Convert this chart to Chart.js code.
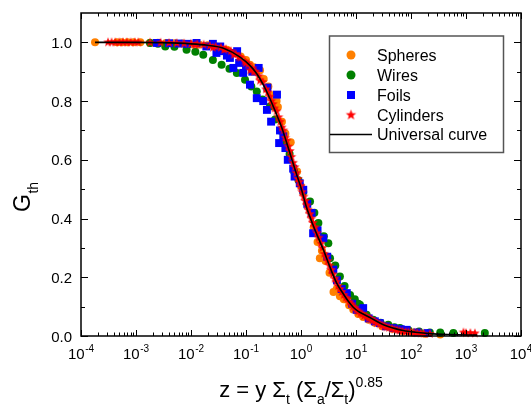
<!DOCTYPE html>
<html><head><meta charset="utf-8">
<script src="https://cdn.jsdelivr.net/npm/chart.js@4.4.1/dist/chart.umd.min.js"></script>
<style>html,body{margin:0;padding:0;background:#fff;}canvas{display:block;}</style>
</head><body>
<canvas id="c" width="531" height="405" style="width:531px;height:405px"></canvas>
<script>
// ---- tick definitions ----
const xTickExponents = [-4, -3, -2, -1, 0, 1, 2, 3, 4];
const xMinorMultipliers = [2, 3, 4, 5, 6, 7, 8, 9];
const yMajorTicks = [0.0, 0.2, 0.4, 0.6, 0.8, 1.0];
const yMinorTicks = [0.1, 0.3, 0.5, 0.7, 0.9];
const seriesNames = ['Spheres', 'Wires', 'Foils', 'Cylinders', 'Universal curve'];

// ---- data: [z, G_th] ----
const spheres = [
 [1.8e-4,1.0],[4.5e-4,1.0],[5.5e-4,1.0],[7e-4,1.0],[9e-4,1.0],[1.2e-3,1.0],[1.8e-3,0.999],[2.5e-3,0.999],
 [3.5e-3,0.998],[5e-3,0.997],[7e-3,0.996],[1e-2,0.994],[1.4e-2,0.993],[2e-2,0.99],[3e-2,0.985],[4.5e-2,0.975],
 [6e-2,0.965],[8e-2,0.952],[0.1,0.94],[0.118,0.924],[0.14,0.915],[0.18,0.905],[0.21,0.875],[0.255,0.85],
 [0.3,0.82],[0.36,0.80],[0.38,0.78],[0.45,0.73],[0.52,0.69],[0.65,0.66],[0.85,0.56],[1.0,0.51],
 [1.3,0.45],[1.7,0.37],[2.0,0.32],[2.2,0.265],[2.4,0.29],[2.8,0.255],[3.3,0.215],[3.9,0.15],
 [4.45,0.16],[5.1,0.135],[6,0.125],[7.5,0.105],[8.9,0.09],[11,0.075],[13.5,0.065],[17,0.055],[22,0.045],
 [30,0.033],[45,0.025],[70,0.017],[110,0.012],[180,0.008],[340,0.005]
];
const wires = [
 [1.8e-3,0.998],[2.5e-3,0.995],[3.4e-3,0.986],[5e-3,0.985],[8.3e-3,0.975],[1.2e-2,0.968],[1.67e-2,0.958],
 [2.5e-2,0.94],[3.6e-2,0.924],[5e-2,0.91],[6.8e-2,0.896],[9.6e-2,0.873],[0.125,0.85],[0.157,0.833],
 [0.2,0.805],[0.273,0.782],[0.337,0.737],[0.42,0.70],[0.5,0.66],[0.62,0.62],[0.75,0.56],[0.9,0.53],
 [1.1,0.49],[1.46,0.458],[1.75,0.42],[2.07,0.385],[2.6,0.34],[3.14,0.316],[3.37,0.265],[4.2,0.24],
 [5.1,0.203],[6.2,0.17],[7.8,0.14],[9.5,0.125],[11,0.11],[11.8,0.106],[15.6,0.072],[20.6,0.055],[28,0.045],
 [38.6,0.038],[50,0.03],[63,0.027],[90,0.02],[140,0.015],[220,0.012],[340,0.012],[590,0.01],[2200,0.01]
];
const foils = [
 [2.4e-3,0.998],[4e-3,0.997],[6e-3,0.996],[8.5e-3,0.995],[1.26e-2,0.998],[1.9e-2,0.986],[2.5e-2,0.995],
 [2.9e-2,0.964],[3.4e-2,0.986],[3.6e-2,0.97],[4.5e-2,0.955],[5.1e-2,0.947],[5.9e-2,0.964],[5.9e-2,0.913],
 [6.9e-2,0.97],[7.5e-2,0.93],[8.9e-2,0.896],[0.1,0.92],[0.118,0.856],[0.13,0.90],[0.157,0.81],[0.17,0.913],
 [0.206,0.80],[0.245,0.846],[0.24,0.77],[0.286,0.73],[0.366,0.822],[0.415,0.70],[0.476,0.68],[0.40,0.657],
 [0.52,0.64],[0.575,0.60],[0.72,0.57],[0.765,0.543],[0.95,0.52],[1.1,0.498],[1.3,0.45],[1.56,0.419],
 [1.66,0.35],[2.0,0.36],[2.55,0.333],[3.0,0.27],[3.87,0.226],[4.5,0.19],[5.5,0.16],[6.8,0.146],[8.5,0.11],
 [10.3,0.089],[13.5,0.095],[17,0.06],[22,0.05],[27,0.044],[35,0.033],[47.5,0.027],[65,0.023],[83,0.021],
 [130,0.012],[200,0.01]
];
const cylinders = [
 [3.1e-4,1.0],[3.6e-4,1.0],[4.2e-4,1.0],[5e-4,1.0],[5.8e-4,1.0],[6.8e-4,1.0],[8e-4,1.0],[9.5e-4,1.0],
 [1.1e-3,1.0],[1.8e-3,0.999],[2.8e-3,0.999],[4e-3,0.998],[5.5e-3,0.997],[7.5e-3,0.996],[1e-2,0.995],
 [1.3e-2,0.994],[1.7e-2,0.992],[2.2e-2,0.988],[2.8e-2,0.985],[3.5e-2,0.982],[4.3e-2,0.977],[5.3e-2,0.97],
 [6.5e-2,0.96],[8e-2,0.948],[9.5e-2,0.935],[0.11,0.925],[0.13,0.912],[0.15,0.9],[0.17,0.885],[0.2,0.865],
 [0.23,0.84],[0.27,0.815],[0.31,0.79],[0.36,0.765],[0.42,0.73],[0.48,0.70],[0.55,0.665],[0.63,0.63],
 [0.72,0.59],[0.82,0.555],[0.93,0.525],[1.05,0.49],[1.2,0.46],[1.35,0.43],[1.55,0.40],[1.8,0.37],
 [2.1,0.335],[2.45,0.30],[2.85,0.27],[3.3,0.24],[3.8,0.21],[4.4,0.185],[5.1,0.16],[6.0,0.14],[7.0,0.125],
 [8.2,0.108],[9.5,0.095],[11,0.083],[13,0.074],[15.5,0.066],[18.5,0.057],[22,0.049],[27,0.04],[33,0.033],
 [40,0.028],[50,0.022],[62,0.018],[80,0.014],[100,0.012],[130,0.01],[170,0.008],[220,0.007],
 [900,0.012],[1000,0.01],[1200,0.01],[1450,0.009],
 [0.012,0.99],[0.025,0.982],[0.04,0.975],[0.06,0.958],[0.075,0.95],[0.1,0.93],[0.12,0.905],[0.14,0.9],
 [0.18,0.87],[0.25,0.83],[0.29,0.80],[0.33,0.775],[0.39,0.745],[0.45,0.71],[0.52,0.675],[0.59,0.645],
 [0.67,0.61],[0.77,0.575],[0.88,0.535],[0.98,0.51],[1.12,0.475],[1.28,0.445],[1.45,0.415],[1.65,0.385],
 [1.95,0.35],[2.3,0.315],[2.65,0.28],[3.05,0.255],[3.55,0.225],[4.1,0.195],[4.75,0.17],[5.5,0.15],
 [6.5,0.13],[7.6,0.115],[8.8,0.1],[10.2,0.088],[12,0.076],[14,0.068],[17,0.06],[20,0.052],[24,0.044],
 [30,0.036],[36,0.03],[45,0.025],[56,0.02],[70,0.016],[90,0.013],[115,0.011],[150,0.009]
];
const universalCurve = [
 [1.8e-4,1.0],[5e-4,1.0],[1e-3,1.0],[3e-3,0.999],[1e-2,0.995],[0.02,0.99],[0.039,0.980],[0.078,0.950],
 [0.12,0.92],[0.157,0.893],[0.2,0.86],[0.273,0.808],[0.35,0.76],[0.446,0.71],[0.6,0.635],[0.8,0.56],
 [1.0,0.505],[1.25,0.44],[1.6,0.385],[2.0,0.34],[2.55,0.294],[3.2,0.245],[4.45,0.18],[5.9,0.143],
 [7.25,0.118],[8.9,0.098],[11,0.084],[13.5,0.075],[17.9,0.063],[31.5,0.038],[50,0.026],[72,0.019],
 [120,0.013],[220,0.008],[500,0.005],[1600,0.003]
];

// ---- styling ----
const FONT = '"Liberation Sans", Arial, Helvetica, sans-serif';
const COLORS = { spheres:'#FF8000', wires:'#008000', foils:'#0000FF', cylinders:'#FF0000', curve:'#000000' };

function makeStar(outerR, color) {
  const size = Math.ceil(outerR * 2 + 2);
  const cv = document.createElement('canvas');
  cv.width = size; cv.height = size;
  const c = cv.getContext('2d');
  const cx = size / 2, cy = size / 2, innerR = outerR * 0.42;
  c.beginPath();
  for (let i = 0; i < 10; i++) {
    const r = i % 2 === 0 ? outerR : innerR;
    const ang = -Math.PI / 2 + i * Math.PI / 5;
    const px = cx + r * Math.cos(ang), py = cy + r * Math.sin(ang);
    if (i === 0) c.moveTo(px, py); else c.lineTo(px, py);
  }
  c.closePath();
  c.fillStyle = color; c.fill();
  return cv;
}
const starImg = makeStar(5, COLORS.cylinders);
const starLegend = makeStar(5.5, COLORS.cylinders);

const toXY = arr => arr.map(([x, y]) => ({ x, y }));

const framePlugin = {
  id: 'frame',
  afterDraw(chart) {
    const { ctx, chartArea: a, scales: { x, y } } = chart;
    ctx.save();
    ctx.strokeStyle = '#000';
    ctx.lineWidth = 1.5;
    ctx.strokeRect(a.left, a.top, a.right - a.left, a.bottom - a.top);
    ctx.lineWidth = 1;
    ctx.beginPath();
    const xt = (v, L) => {
      const px = Math.round(x.getPixelForValue(v)) + 0.5;
      ctx.moveTo(px, a.bottom); ctx.lineTo(px, a.bottom - L);
      ctx.moveTo(px, a.top); ctx.lineTo(px, a.top + L);
    };
    xTickExponents.forEach(e => {
      xt(Math.pow(10, e), 6);
      if (e < 4) xMinorMultipliers.forEach(m => xt(m * Math.pow(10, e), 3.5));
    });
    const yt = (v, L) => {
      const py = Math.round(y.getPixelForValue(v)) + 0.5;
      ctx.moveTo(a.left, py); ctx.lineTo(a.left + L, py);
      ctx.moveTo(a.right, py); ctx.lineTo(a.right - L, py);
    };
    yMajorTicks.forEach(v => yt(v, 7));
    yMinorTicks.forEach(v => yt(v, 4));
    ctx.stroke();

    ctx.fillStyle = '#000';
    ctx.font = '15px ' + FONT;
    ctx.textAlign = 'right';
    ctx.textBaseline = 'alphabetic';
    yMajorTicks.forEach(v => {
      ctx.fillText(v.toFixed(1), a.left - 9, y.getPixelForValue(v) + 5.5);
    });
    ctx.textAlign = 'left';
    xTickExponents.forEach(e => {
      const px = x.getPixelForValue(Math.pow(10, e));
      ctx.font = '15px ' + FONT;
      const w1 = ctx.measureText('10').width;
      ctx.font = '10px ' + FONT;
      const es = e < 0 ? '-' + Math.abs(e) : String(e);
      const w2 = ctx.measureText(es).width;
      const x0 = px - (w1 + w2 + 0.5) / 2;
      ctx.font = '15px ' + FONT;
      ctx.fillText('10', x0, 359);
      ctx.font = '10px ' + FONT;
      ctx.fillText(es, x0 + w1 + 0.5, 352);
    });
    const parts = [
      ['z = y \u03A3', 'n'], ['t', 'sub'], [' (\u03A3', 'n'], ['a', 'sub'], ['/\u03A3', 'n'],
      ['t', 'sub'], [')', 'n'], ['0.85', 'sup']
    ];
    const fontFor = k => (k === 'n' ? '22px ' : '14px ') + FONT;
    let total = 0;
    parts.forEach(([t, k]) => { ctx.font = fontFor(k); total += ctx.measureText(t).width; });
    let cx = (a.left + a.right) / 2 - total / 2;
    parts.forEach(([t, k]) => {
      ctx.font = fontFor(k);
      const by = k === 'n' ? 397 : (k === 'sub' ? 404 : 387);
      ctx.fillText(t, cx, by);
      cx += ctx.measureText(t).width;
    });
    ctx.save();
    ctx.translate(30, 212);
    ctx.rotate(-Math.PI / 2);
    ctx.font = '23px ' + FONT;
    ctx.fillText('G', 0, 0);
    const gw = ctx.measureText('G').width;
    ctx.font = '14px ' + FONT;
    ctx.fillText('th', gw + 0.5, 8);
    ctx.restore();

    ctx.strokeStyle = '#555';
    ctx.lineWidth = 1.5;
    ctx.strokeRect(329.5, 36, 174, 116.5);
    const lx = 351, tx = 377;
    const rows = [55, 75, 95, 115, 134.5];
    ctx.fillStyle = COLORS.spheres;
    ctx.beginPath(); ctx.arc(lx, rows[0], 4.5, 0, Math.PI * 2); ctx.fill();
    ctx.fillStyle = COLORS.wires;
    ctx.beginPath(); ctx.arc(lx, rows[1], 4.5, 0, Math.PI * 2); ctx.fill();
    ctx.fillStyle = COLORS.foils;
    ctx.fillRect(lx - 4, rows[2] - 4, 8, 8);
    ctx.drawImage(starLegend, lx - starLegend.width / 2, rows[3] - starLegend.height / 2);
    ctx.strokeStyle = '#000';
    ctx.lineWidth = 1.6;
    ctx.beginPath(); ctx.moveTo(330, rows[4]); ctx.lineTo(372, rows[4]); ctx.stroke();
    ctx.fillStyle = '#000';
    ctx.font = '16px ' + FONT;
    ctx.textAlign = 'left';
    seriesNames.forEach((n, i) => ctx.fillText(n, tx, rows[i] + 5.5));
    ctx.restore();
  }
};

new Chart(document.getElementById('c'), {
  type: 'scatter',
  data: {
    datasets: [
      { label: seriesNames[0], data: toXY(spheres), pointStyle: 'circle', pointRadius: 4,
        pointBackgroundColor: COLORS.spheres, pointBorderColor: COLORS.spheres, pointBorderWidth: 0, order: 5, clip: false },
      { label: seriesNames[1], data: toXY(wires), pointStyle: 'circle', pointRadius: 4,
        pointBackgroundColor: COLORS.wires, pointBorderColor: COLORS.wires, pointBorderWidth: 0, order: 4, clip: false },
      { label: seriesNames[2], data: toXY(foils), pointStyle: 'rect', pointRadius: 5.6,
        pointBackgroundColor: COLORS.foils, pointBorderColor: COLORS.foils, pointBorderWidth: 0, order: 3, clip: false },
      { label: seriesNames[3], data: toXY(cylinders), pointStyle: starImg, pointRadius: 5,
        pointBackgroundColor: COLORS.cylinders, pointBorderColor: COLORS.cylinders, order: 2, clip: false },
      { label: seriesNames[4], data: toXY(universalCurve), showLine: true, borderColor: COLORS.curve,
        borderWidth: 1.6, pointRadius: 0, cubicInterpolationMode: 'monotone', order: 1, clip: false }
    ]
  },
  options: {
    responsive: false, animation: false, devicePixelRatio: 1,
    layout: { padding: { left: 0, right: 10, top: 13, bottom: 0 } },
    plugins: { legend: { display: false }, tooltip: { enabled: false } },
    scales: {
      x: { type: 'logarithmic', min: 1e-4, max: 1e4, ticks: { display: false }, grid: { display: false },
           border: { display: false }, afterFit(s) { s.height = 69; } },
      y: { type: 'linear', min: 0, max: 1.1, ticks: { display: false }, grid: { display: false },
           border: { display: false }, afterFit(s) { s.width = 81; } }
    }
  },
  plugins: [framePlugin]
});
</script>
</body></html>
